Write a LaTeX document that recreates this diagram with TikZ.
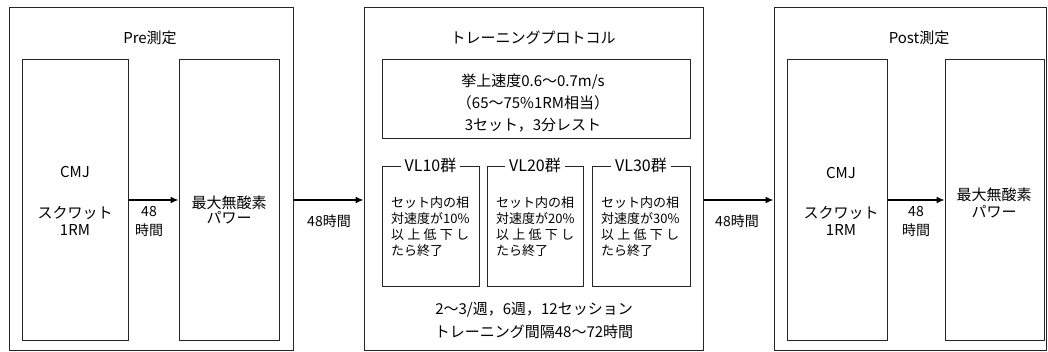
\documentclass[tikz,border=0pt]{standalone}
\usepackage{fontspec}
\setmainfont{Noto Sans CJK JP}
\usetikzlibrary{arrows.meta}
\begin{document}
\begin{tikzpicture}[x=1pt,y=-1pt,
  box/.style={draw=black!85,line width=1pt,inner sep=0pt},
  txt/.style={inner sep=0pt,font=\fontsize{15}{17}\selectfont},
  lbl/.style={inner sep=0pt,font=\fontsize{14}{16}\selectfont},
  vtxt/.style={inner sep=0pt,anchor=west,font=\fontsize{13}{15}\selectfont},
  vhead/.style={fill=white,inner xsep=4pt,inner ysep=0pt,font=\fontsize{16}{18}\selectfont},
  arr/.style={line width=1.4pt,-{Latex[length=8pt,width=7pt]}}]
\useasboundingbox (0,0) rectangle (1048,352);
% outer boxes
\node[box,minimum width=284pt,minimum height=342pt] (pre) at (151,179) {};
\node[box,minimum width=339pt,minimum height=342pt] (mid) at (533.5,179) {};
\node[box,minimum width=272pt,minimum height=342pt] (post) at (910,179) {};
% pre inner
\node[box,minimum width=106pt,minimum height=280pt] (precmj) at (75,200) {};
\node[box,minimum width=100pt,minimum height=280pt] (prepow) at (229,200) {};
% post inner
\node[box,minimum width=100pt,minimum height=280pt] (postcmj) at (837,200) {};
\node[box,minimum width=99pt,minimum height=280pt] (postpow) at (994.5,200) {};
% mid inner
\node[box,minimum width=308pt,minimum height=79pt] (cond) at (536,99.5) {};
\node[box,minimum width=97pt,minimum height=120pt] (vla) at (430.5,227) {};
\node[box,minimum width=96pt,minimum height=120pt] (vlb) at (535,227) {};
\node[box,minimum width=98pt,minimum height=120pt] (vlc) at (641,227) {};
% titles
\node[txt] (pretitle) at (150,38) {Pre測定};
\node[txt] (midtitle) at (533,38) {トレーニングプロトコル};
\node[txt] (posttitle) at (919,38) {Post測定};
% pre texts
\node[txt] (pcmj) at (75,172) {CMJ};
\node[txt] (psq) at (75,213) {スクワット};
\node[txt] (prm) at (75,230) {1RM};
\node[txt] (ppow1) at (229,203) {最大無酸素};
\node[txt] (ppow2) at (229,218) {パワー};
% post texts
\node[txt] (qcmj) at (841,173) {CMJ};
\node[txt] (qsq) at (841,213) {スクワット};
\node[txt] (qrm) at (841,230) {1RM};
\node[txt] (qpow1) at (994,195) {最大無酸素};
\node[txt] (qpow2) at (994,212) {パワー};
% condition texts
\node[txt] (c1) at (533,82) {挙上速度0.6〜0.7m/s};
\node[txt] (c2) at (533,103) {（65〜75\%1RM相当）};
\node[txt] (c3) at (533,125) {3セット，3分レスト};
% VL headers
\node[vhead] (ha) at ([yshift=1pt]vla.north) {VL10群};
\node[vhead] (hb) at ([yshift=1pt]vlb.north) {VL20群};
\node[vhead] (hc) at ([yshift=1pt]vlc.north) {VL30群};
% VL bodies
\foreach \b/\p/\x in {a/10/391,b/20/496,c/30/601}{
  \node[vtxt] (\b1) at (\x,203) {セット内の相};
  \node[vtxt] (\b2) at (\x,219) {対速度が\p\%};
  \node[vtxt] (\b3) at (\x,235) {\makebox[78pt][s]{以\hfill 上\hfill 低\hfill 下\hfill し}};
  \node[vtxt] (\b4) at (\x,251) {たら終了};
}
% bottom texts
\node[txt] (b1) at (534,310) {2〜3/週，6週，12セッション};
\node[txt] (b2) at (534,332) {トレーニング間隔48〜72時間};
% arrows
\draw[arr] (precmj.east) -- (prepow.west);
\draw[arr] (postcmj.east) -- (postpow.west);
\draw[arr] (pre.east |- precmj.east) -- (mid.west |- precmj.east);
\draw[arr] (mid.east |- precmj.east) -- (post.west |- precmj.east);
% arrow labels
\node[lbl] (l1a) at (149,212) {48};
\node[lbl] (l1b) at (149,230) {時間};
\node[lbl] (l4a) at (916,212) {48};
\node[lbl] (l4b) at (916,230) {時間};
\node[lbl] (l2) at (329,221) {48時間};
\node[lbl] (l3) at (737,221) {48時間};
\end{tikzpicture}
\end{document}
